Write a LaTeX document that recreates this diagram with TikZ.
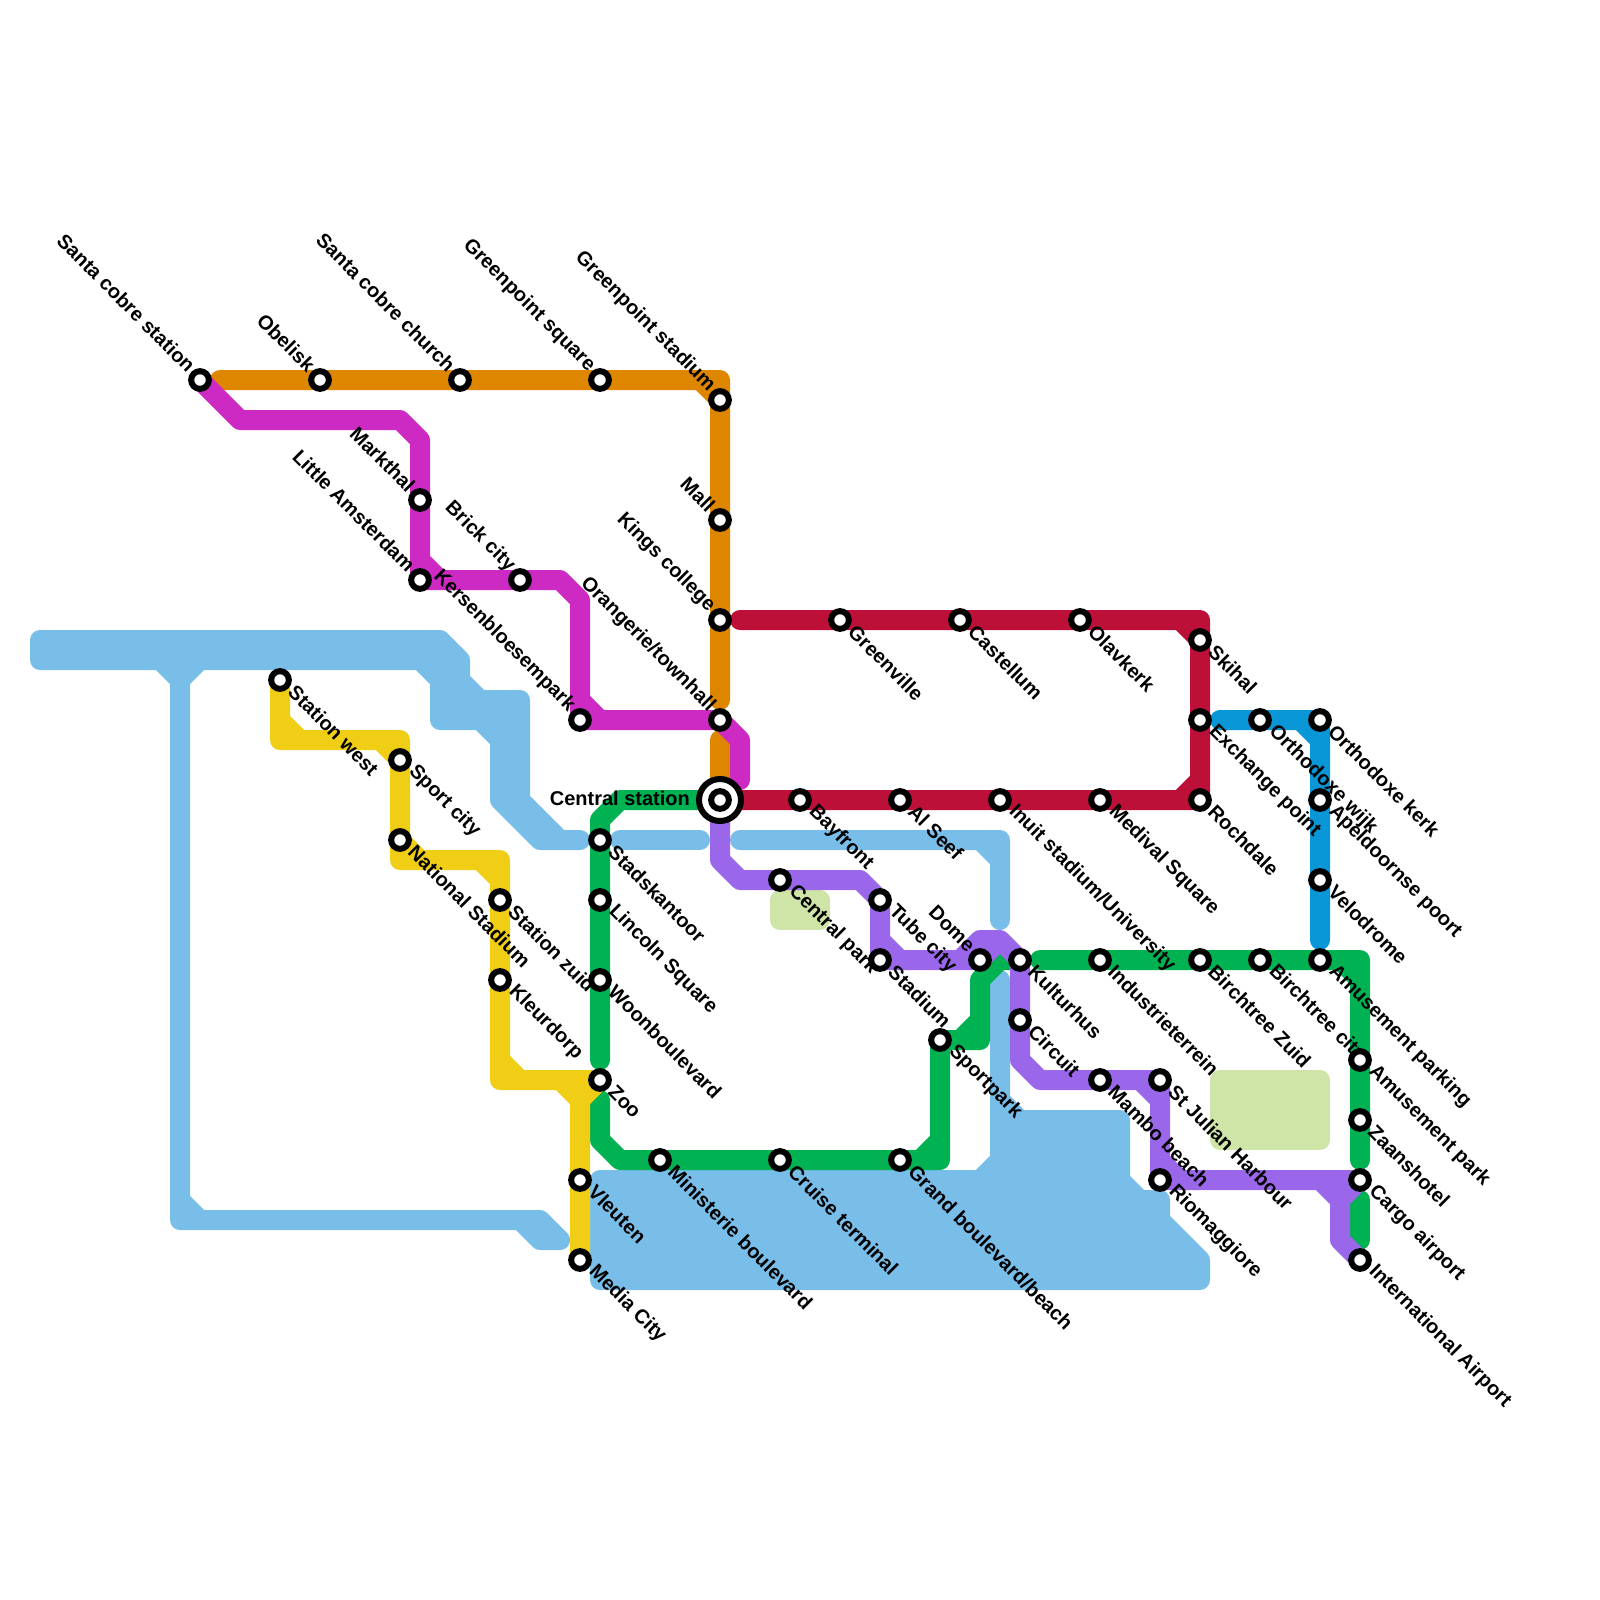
\documentclass[tikz,border=0pt]{standalone}
\usepackage{fontspec}
\setmainfont{Liberation Sans}
\usetikzlibrary{backgrounds}
\definecolor{LineOrange}{HTML}{DF8600}
\definecolor{LineMagenta}{HTML}{CC2AC2}
\definecolor{LineRed}{HTML}{BD1038}
\definecolor{LineBlue}{HTML}{0896D7}
\definecolor{LineGreen}{HTML}{00B251}
\definecolor{LineYellow}{HTML}{F0CE15}
\definecolor{LinePurple}{HTML}{9A67EB}
\definecolor{WaterBlue}{HTML}{79BDE9}
\definecolor{ParkGreen}{HTML}{CFE4A7}

\begin{document}
\begin{tikzpicture}[
  x=0.5cm, y=-0.5cm,
  track/.style={line width=5mm, line cap=round, line join=round},
  water/.style={track, draw=WaterBlue, fill=WaterBlue},
  park/.style={track, draw=ParkGreen, fill=ParkGreen},
  stn/.style={circle, draw=black, fill=white, line width=1.5mm, minimum size=4.43mm, inner sep=0pt},
  hub/.style={circle, draw=black, fill=white, line width=1.5mm, minimum size=10.5mm, inner sep=0pt},
  lblse/.style={rotate=-45, anchor=west, yshift=0.6mm, font=\fontsize{14.2}{14.2}\selectfont\bfseries, inner sep=0.6mm},
  lblnw/.style={rotate=-45, anchor=east, yshift=0.6mm, font=\fontsize{14.2}{14.2}\selectfont\bfseries, inner sep=0.5mm},
  lblhub/.style={anchor=east, xshift=-1mm, yshift=0.5mm, font=\fontsize{14.2}{14.2}\selectfont\bfseries, inner sep=0.5mm}
]
\useasboundingbox (0,0) rectangle (80,80);

% Stations, orange line
\node[stn, label={[lblnw]135:Santa cobre station}] (santastation) at (10,19) {};
\node[stn, label={[lblnw]135:Obelisk}] (obelisk) at (16,19) {};
\node[stn, label={[lblnw]135:Santa cobre church}] (santachurch) at (23,19) {};
\node[stn, label={[lblnw]135:Greenpoint square}] (gpsquare) at (30,19) {};
\node[stn, label={[lblnw]135:Greenpoint stadium}] (gpstadium) at (36,20) {};
\node[stn, label={[lblnw]135:Mall}] (mall) at (36,26) {};
\node[stn, label={[lblnw]135:Kings college}] (kings) at (36,31) {};
\node[hub, label={[lblhub]180:Central station}] (central) at (36,40) {};
\node[stn] (centralin) at (36,40) {};

% Stations, magenta line
\node[stn, label={[lblnw]135:Markthal}] (markthal) at (21,25) {};
\node[stn, label={[lblnw]135:Little Amsterdam}] (amsterdam) at (21,29) {};
\node[stn, label={[lblnw]135:Brick city}] (brick) at (26,29) {};
\node[stn, label={[lblnw]135:Kersenbloesempark}] (kersen) at (29,36) {};
\node[stn, label={[lblnw]135:Orangerie/townhall}] (orangerie) at (36,36) {};

% Stations, yellow line
\node[stn, label={[lblse]-45:Station west}] (stwest) at (14,34) {};
\node[stn, label={[lblse]-45:Sport city}] (sportcity) at (20,38) {};
\node[stn, label={[lblse]-45:National Stadium}] (national) at (20,42) {};
\node[stn, label={[lblse]-45:Station zuid}] (stzuid) at (25,45) {};
\node[stn, label={[lblse]-45:Kleurdorp}] (kleurdorp) at (25,49) {};
\node[stn, label={[lblse]-45:Vleuten}] (vleuten) at (29,59) {};
\node[stn, label={[lblse]-45:Media City}] (media) at (29,63) {};

% Stations, green line
\node[stn, label={[lblse]-45:Stadskantoor}] (stadskantoor) at (30,42) {};
\node[stn, label={[lblse]-45:Lincoln Square}] (lincoln) at (30,45) {};
\node[stn, label={[lblse]-45:Woonboulevard}] (woon) at (30,49) {};
\node[stn, label={[lblse]-45:Zoo}] (zoo) at (30,54) {};
\node[stn, label={[lblse]-45:Ministerie boulevard}] (ministerie) at (33,58) {};
\node[stn, label={[lblse]-45:Cruise terminal}] (cruise) at (39,58) {};
\node[stn, label={[lblse]-45:Grand boulevard/beach}] (grand) at (45,58) {};
\node[stn, label={[lblse]-45:Sportpark}] (sportpark) at (47,52) {};
\node[stn, label={[lblse]-45:Industrieterrein}] (industrie) at (55,48) {};
\node[stn, label={[lblse]-45:Birchtree Zuid}] (birchzuid) at (60,48) {};
\node[stn, label={[lblse]-45:Birchtree city}] (birchcity) at (63,48) {};
\node[stn, label={[lblse]-45:Amusement parking}] (amuseparking) at (66,48) {};
\node[stn, label={[lblse]-45:Amusement park}] (amusepark) at (68,53) {};
\node[stn, label={[lblse]-45:Zaanshotel}] (zaans) at (68,56) {};
\node[stn, label={[lblse]-45:Cargo airport}] (cargo) at (68,59) {};

% Stations, red line
\node[stn, label={[lblse]-45:Greenville}] (greenville) at (42,31) {};
\node[stn, label={[lblse]-45:Castellum}] (castellum) at (48,31) {};
\node[stn, label={[lblse]-45:Olavkerk}] (olavkerk) at (54,31) {};
\node[stn, label={[lblse]-45:Skihal}] (skihal) at (60,32) {};
\node[stn, label={[lblse]-45:Exchange point}] (exchange) at (60,36) {};
\node[stn, label={[lblse]-45:Rochdale}] (rochdale) at (60,40) {};
\node[stn, label={[lblse]-45:Medival Square}] (medival) at (55,40) {};
\node[stn, label={[lblse]-45:Inuit stadium/University}] (inuit) at (50,40) {};
\node[stn, label={[lblse]-45:Al Seef}] (alseef) at (45,40) {};
\node[stn, label={[lblse]-45:Bayfront}] (bayfront) at (40,40) {};

% Stations, blue line
\node[stn, label={[lblse]-45:Orthodoxe wijk}] (orthowijk) at (63,36) {};
\node[stn, label={[lblse]-45:Orthodoxe kerk}] (orthokerk) at (66,36) {};
\node[stn, label={[lblse]-45:Apeldoornse poort}] (apeldoorn) at (66,40) {};
\node[stn, label={[lblse]-45:Velodrome}] (velodrome) at (66,44) {};

% Stations, purple line
\node[stn, label={[lblse]-45:Central park}] (centralpark) at (39,44) {};
\node[stn, label={[lblse]-45:Tube city}] (tube) at (44,45) {};
\node[stn, label={[lblse]-45:Stadium}] (stadium) at (44,48) {};
\node[stn, label={[lblnw]135:Dome}] (dome) at (49,48) {};
\node[stn, label={[lblse]-45:Kulturhus}] (kulturhus) at (51,48) {};
\node[stn, label={[lblse]-45:Circuit}] (circuit) at (51,51) {};
\node[stn, label={[lblse]-45:Mambo beach}] (mambo) at (55,54) {};
\node[stn, label={[lblse]-45:St Julian Harbour}] (julian) at (58,54) {};
\node[stn, label={[lblse]-45:Riomaggiore}] (rio) at (58,59) {};
\node[stn, label={[lblse]-45:International Airport}] (intl) at (68,63) {};

% Free line ends
\coordinate (orangestart) at (11,19);
\coordinate (orangeend) at (36,35);
\coordinate (orangestub) at (36,37);
\coordinate (magentaend) at (37,39);
\coordinate (greenmid) at (30,53);
\coordinate (greenstub) at (30,55);
\coordinate (greenrow) at (52,48);
\coordinate (greenend) at (68,58);
\coordinate (greenspur) at (68,60);
\coordinate (greenspurend) at (68,62);
\coordinate (redtop) at (37,31);
\coordinate (redlow) at (37,40);
\coordinate (bluestart) at (61,36);
\coordinate (blueend) at (66,47);
\coordinate (purplestart) at (36,41);
\coordinate (watermid) at (31,42);
\coordinate (watermidend) at (35,42);
\coordinate (waterright) at (37,42);
\coordinate (waterrightend) at (50,46);

\begin{scope}[on background layer]
% Water
\draw[water] (2,32) -- (22,32) -- (23,33) -- (23,34) -- (24,35) -- (26,35) -- (26,40) -- (28,42)
  -- (29,42) -- (27,42) -- (25,40) -- (25,37) -- (24,36) -- (22,36) -- (22,34) -- (21,33) -- (2,33) -- cycle;
\draw[track, WaterBlue] (8,33) -- (9,34) -- (10,33) (9,34) -- (9,61) -- (27,61) -- (28,62) -- (27,62) -- (26,61)
  (9,60) -- (10,61);
\draw[track, WaterBlue] (watermid) -- (watermidend);
\draw[track, WaterBlue] (waterright) -- (49,42) -- (50,43) -- (waterrightend) (49,42) -- (50,42) -- (50,43);
\draw[water] (30,59) -- (49,59) -- (50,58) -- (50,49) -- (50,55) -- (51,56) -- (56,56) -- (56,59) -- (57,60)
  -- (58,60) -- (58,61) -- (60,63) -- (60,64) -- (30,64) -- cycle;

% Parks
\draw[park] (39,45) rectangle (41,46);
\draw[park] (61,54) rectangle (66,57);

% Lines
\draw[track, LineOrange] (orangestart) -- (obelisk.center) -- (santachurch.center) -- (gpsquare.center) -- (35,19)
  -- (gpstadium.center) -- (mall.center) -- (kings.center) -- (orangeend)
  (35,19) -- (36,19) -- (gpstadium.center);
\draw[track, LineOrange] (orangestub) -- (central.center);

\draw[track, LineGreen] (central.center) -- (31,40) -- (30,41) -- (stadskantoor.center) -- (lincoln.center)
  -- (woon.center) -- (greenmid);
\draw[track, LineGreen] (greenstub) -- (30,57) -- (31,58) -- (ministerie.center) -- (cruise.center) -- (grand.center)
  -- (46,58) -- (47,57) -- (sportpark.center) -- (48,52) -- (49,51) -- (49,49) -- (50,48) -- (kulturhus.center)
  (46,58) -- (47,58) -- (47,57) (48,52) -- (49,52) -- (49,51);
\draw[track, LineGreen] (greenrow) -- (industrie.center) -- (birchzuid.center) -- (birchcity.center)
  -- (amuseparking.center) -- (67,48) -- (68,49) -- (amusepark.center) -- (zaans.center) -- (greenend)
  (67,48) -- (68,48) -- (68,49);
\draw[track, LineGreen] (greenspur) -- (greenspurend);

\draw[track, LineYellow] (stwest.center) -- (14,36) -- (15,37) -- (19,37) -- (sportcity.center) -- (national.center)
  -- (21,43) -- (24,43) -- (25,44) -- (stzuid.center) -- (kleurdorp.center) -- (25,53) -- (26,54) -- (zoo.center)
  (28,54) -- (29,55) -- (vleuten.center) -- (media.center) (zoo.center) -- (29,55)
  (14,36) -- (14,37) -- (15,37) (19,37) -- (20,37) -- (sportcity.center) (national.center) -- (20,43) -- (21,43)
  (24,43) -- (25,43) -- (25,44) (25,53) -- (25,54) -- (26,54);

\draw[track, LineRed] (redtop) -- (greenville.center) -- (castellum.center) -- (olavkerk.center) -- (59,31)
  -- (skihal.center) -- (exchange.center) -- (60,39) -- (59,40) -- (medival.center) -- (inuit.center)
  -- (alseef.center) -- (bayfront.center) -- (redlow)
  (59,31) -- (60,31) -- (skihal.center) (60,39) -- (rochdale.center) -- (59,40);

\draw[track, LineBlue] (bluestart) -- (orthowijk.center) -- (65,36) -- (66,37) -- (apeldoorn.center)
  -- (velodrome.center) -- (blueend) (65,36) -- (orthokerk.center) -- (66,37);

\draw[track, LinePurple] (purplestart) -- (36,43) -- (37,44) -- (centralpark.center) -- (43,44) -- (tube.center)
  -- (44,47) -- (45,48) -- (48,48) -- (49,47) -- (50,47) -- (kulturhus.center) -- (circuit.center) -- (51,53)
  -- (52,54) -- (mambo.center) -- (57,54) -- (58,55) -- (58,58) -- (59,59) -- (66,59) -- (67,60) -- (67,62) -- (intl.center)
  (44,47) -- (stadium.center) -- (45,48) (48,48) -- (dome.center) -- (49,47) (dome.center) -- (50,47)
  (57,54) -- (julian.center) -- (58,55) (58,58) -- (rio.center) -- (59,59) (66,59) -- (cargo.center) -- (67,60);

\draw[track, LineMagenta] (santastation.center) -- (12,21) -- (20,21) -- (21,22) -- (markthal.center) -- (21,28)
  -- (22,29) -- (brick.center) -- (28,29) -- (29,30) -- (29,35) -- (30,36) -- (orangerie.center) -- (37,37) -- (magentaend)
  (21,28) -- (amsterdam.center) -- (22,29) (29,35) -- (kersen.center) -- (30,36);
\end{scope}

\end{tikzpicture}
\end{document}
